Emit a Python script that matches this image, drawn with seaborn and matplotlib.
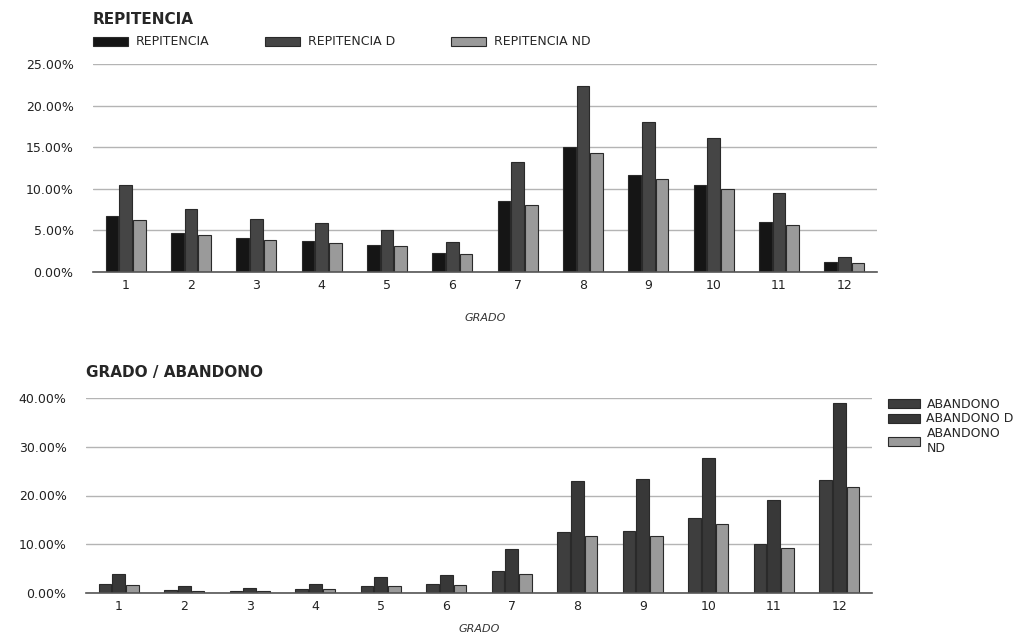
import pandas as pd
import seaborn as sns
import matplotlib.pyplot as plt
from matplotlib.ticker import FuncFormatter

grados = [str(g) for g in range(1, 13)]

repitencia = [6.7, 4.7, 4.1, 3.7, 3.2, 2.3, 8.5, 15.0, 11.7, 10.5, 6.0, 1.2]
repitencia_d = [10.4, 7.6, 6.4, 5.9, 5.1, 3.6, 13.2, 22.4, 18.0, 16.1, 9.5, 1.8]
repitencia_nd = [6.3, 4.5, 3.8, 3.5, 3.1, 2.2, 8.1, 14.3, 11.2, 10.0, 5.7, 1.1]

abandono = [1.8, 0.7, 0.5, 0.8, 1.5, 1.8, 4.5, 12.5, 12.7, 15.3, 10.0, 23.2]
abandono_d = [4.0, 1.5, 1.0, 1.8, 3.2, 3.7, 9.0, 23.0, 23.4, 27.6, 19.0, 39.0]
abandono_nd = [1.7, 0.5, 0.4, 0.8, 1.5, 1.7, 4.0, 11.6, 11.6, 14.2, 9.3, 21.8]

rep_series = ['REPITENCIA', 'REPITENCIA D', 'REPITENCIA ND']
aba_series = ['ABANDONO', 'ABANDONO D', 'ABANDONO\nND']


def long_df(series, values):
    rows = []
    for name, vals in zip(series, values):
        for g, v in zip(grados, vals):
            rows.append({'GRADO': g, 'serie': name, 'valor': v})
    return pd.DataFrame(rows)


sns.set_style('white')
plt.rcParams['font.family'] = ['DejaVu Sans']

fig = plt.figure(figsize=(10.29, 6.39), dpi=100)
W, H = 1029, 639


def style_axes(ax, ymax, step, labelpad):
    ax.set_ylim(0, ymax)
    ax.set_xlim(-0.5, 11.5)
    ax.set_yticks(range(0, ymax + 1, step))
    ax.yaxis.set_major_formatter(FuncFormatter(lambda v, p: f'{v:.2f}%'))
    ax.grid(axis='y', color='#b4b4b4', linewidth=1)
    ax.set_axisbelow(True)
    for s in ['top', 'right', 'left']:
        ax.spines[s].set_visible(False)
    ax.spines['bottom'].set_color('#555555')
    ax.spines['bottom'].set_linewidth(1.2)
    ax.tick_params(axis='both', length=0, labelsize=9, colors='#222222')
    ax.tick_params(axis='y', pad=14)
    ax.tick_params(axis='x', pad=5)
    ax.set_xlabel('GRADO', style='italic', fontsize=8, color='#333333', labelpad=labelpad)
    ax.set_ylabel('')


# Top chart
ax1 = fig.add_axes([93 / W, 1 - 272 / H, 784 / W, 208 / H])
df1 = long_df(rep_series, [repitencia, repitencia_d, repitencia_nd])
sns.barplot(data=df1, x='GRADO', y='valor', hue='serie', ax=ax1,
            palette=['#151515', '#454545', '#9a9a9a'], width=0.63, gap=0.08,
            edgecolor='#2a2a2a', linewidth=0.8, saturation=1)
style_axes(ax1, 25, 5, 15)
ax1.legend(loc='center left', bbox_to_anchor=(0.0, 1 + 22 / 208), ncol=3, frameon=False,
           fontsize=9, handlelength=2.8, handleheight=0.75, columnspacing=4.5,
           handletextpad=0.6, borderaxespad=0, borderpad=0)
fig.text(93 / W, 1 - 20 / H, 'REPITENCIA', fontsize=11, fontweight='bold',
         va='center', ha='left')

# Bottom chart
ax2 = fig.add_axes([86 / W, 1 - 593 / H, 786 / W, 195 / H])
df2 = long_df(aba_series, [abandono, abandono_d, abandono_nd])
sns.barplot(data=df2, x='GRADO', y='valor', hue='serie', ax=ax2,
            palette=['#3e3e3e', '#383838', '#9a9a9a'], width=0.63, gap=0.08,
            edgecolor='#2a2a2a', linewidth=0.8, saturation=1)
style_axes(ax2, 40, 10, 8)
ax2.legend(loc='upper left', bbox_to_anchor=(1.02, 1.0), ncol=1, frameon=False,
           fontsize=9, handlelength=2.6, handleheight=0.75, labelspacing=0.12,
           handletextpad=0.5, borderaxespad=0, borderpad=0)
fig.text(86 / W, 1 - 372 / H, 'GRADO / ABANDONO', fontsize=11, fontweight='bold',
         va='center', ha='left')

fig.savefig('out.png', dpi=100)
